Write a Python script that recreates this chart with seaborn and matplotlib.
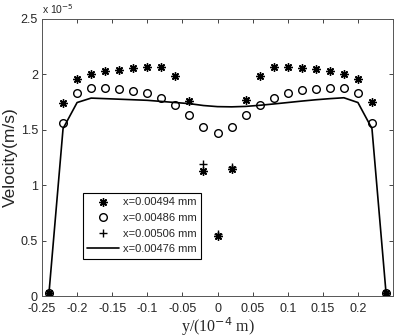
import numpy as np
import pandas as pd
import seaborn as sns
import matplotlib.pyplot as plt

# velocity values in units of 1e-5 m/s, y in 1e-4 m
star_y = [-0.24, -0.22, -0.2, -0.18, -0.16, -0.14, -0.12, -0.1, -0.08, -0.06, -0.04, -0.02, 0.0,
          0.02, 0.04, 0.06, 0.08, 0.1, 0.12, 0.14, 0.16, 0.18, 0.2, 0.22, 0.24]
star_v = [0.03, 1.745, 1.955, 2.0, 2.03, 2.04, 2.06, 2.064, 2.064, 1.985, 1.757, 1.13, 0.545,
          1.145, 1.766, 1.985, 2.064, 2.064, 2.06, 2.045, 2.03, 2.006, 1.955, 1.752, 0.03]

circ_y = [-0.24, -0.22, -0.2, -0.18, -0.16, -0.14, -0.12, -0.1, -0.08, -0.06, -0.04, -0.02, 0.0,
          0.02, 0.04, 0.06, 0.08, 0.1, 0.12, 0.14, 0.16, 0.18, 0.2, 0.22, 0.24]
circ_v = [0.03, 1.564, 1.827, 1.873, 1.873, 1.867, 1.852, 1.827, 1.788, 1.721, 1.63, 1.522, 1.473,
          1.522, 1.63, 1.721, 1.788, 1.827, 1.855, 1.867, 1.873, 1.873, 1.827, 1.564, 0.03]

plus_y = [-0.24, -0.02, 0.0, 0.02, 0.24]
plus_v = [0.03, 1.19, 0.56, 1.16, 0.03]

line_y = [-0.24, -0.22, -0.2, -0.18, -0.16, -0.14, -0.12, -0.1, -0.08, -0.06, -0.04, -0.02, 0.0,
          0.02, 0.04, 0.06, 0.08, 0.1, 0.12, 0.14, 0.16, 0.18, 0.2, 0.22, 0.24]
line_v = [0.03, 1.51, 1.745, 1.785, 1.78, 1.775, 1.77, 1.765, 1.755, 1.745, 1.735, 1.718, 1.708,
          1.706, 1.71, 1.72, 1.732, 1.745, 1.758, 1.77, 1.78, 1.788, 1.745, 1.51, 0.03]

labels = ["x=0.00494 mm", "x=0.00486 mm", "x=0.00506 mm", "x=0.00476 mm"]
x_ticks = [-0.25, -0.2, -0.15, -0.1, -0.05, 0, 0.05, 0.1, 0.15, 0.2, 0.25]
x_ticklabels = ["-0.25", "-0.2", "-0.15", "-0.1", "-0.05", "0", "0.05", "0.1", "0.15", "0.2", ""]
y_ticks = [0, 0.5, 1, 1.5, 2, 2.5]
y_ticklabels = ["0", "0.5", "1", "1.5", "2", "2.5"]

sns.set_style("ticks")
plt.rcParams["font.family"] = ["Liberation Sans", "DejaVu Sans"]
plt.rcParams["xtick.direction"] = "in"
plt.rcParams["ytick.direction"] = "in"

fig = plt.figure(figsize=(3.98, 3.36), dpi=100)
ax = fig.add_axes([0.1055, 0.119, 0.882, 0.825])

sns.lineplot(x=line_y, y=line_v, color="black", linewidth=1.2, sort=False, ax=ax,
             label=labels[3])
sns.lineplot(x=star_y, y=star_v, color="black", marker=(8, 2, 0), markersize=6,
             markeredgecolor="black", markeredgewidth=1.0, linestyle="none", sort=False,
             ax=ax, label=labels[0])
sns.lineplot(x=circ_y, y=circ_v, color="black", marker="o", markersize=5.5,
             markerfacecolor="none", markeredgecolor="black", markeredgewidth=1.0,
             linestyle="none", sort=False, ax=ax, label=labels[1])
sns.lineplot(x=plus_y, y=plus_v, color="black", marker="+", markersize=6,
             markeredgecolor="black", markeredgewidth=1.0, linestyle="none", sort=False,
             ax=ax, label=labels[2])

handles, labs = ax.get_legend_handles_labels()
order = [1, 2, 3, 0]
leg = ax.legend([handles[i] for i in order], [labs[i] for i in order],
                loc="lower left", bbox_to_anchor=(0.1, 0.115), fontsize=8,
                frameon=True, fancybox=False, edgecolor="black", framealpha=1,
                handlelength=2.9, borderpad=0.4, labelspacing=0.5, handletextpad=0.3)
leg.get_frame().set_linewidth(0.8)

ax.set_xlim(-0.25, 0.25)
ax.set_ylim(0, 2.5)
ax.set_xticks(x_ticks)
ax.set_xticklabels(x_ticklabels)
ax.set_yticks(y_ticks)
ax.set_yticklabels(y_ticklabels)
ax.tick_params(axis="both", labelsize=9, length=3, width=0.6, top=True, right=True)
ax.tick_params(axis="x", pad=5)
ax.tick_params(axis="y", pad=3)
for sp in ax.spines.values():
    sp.set_linewidth(0.7)
    sp.set_color("#555555")

ax.set_ylabel("Velocity(m/s)", fontsize=12.5, labelpad=2)
ax.set_xlabel("y/(10$^{-4}$ m)", fontsize=11.5, family="Liberation Serif")
ax.xaxis.set_label_coords(0.5, -0.07)
ax.text(0.0, 1.01, r"x 10$^{-5}$", transform=ax.transAxes, fontsize=7.5, va="bottom", ha="left")

fig.savefig("out.png", dpi=100)
